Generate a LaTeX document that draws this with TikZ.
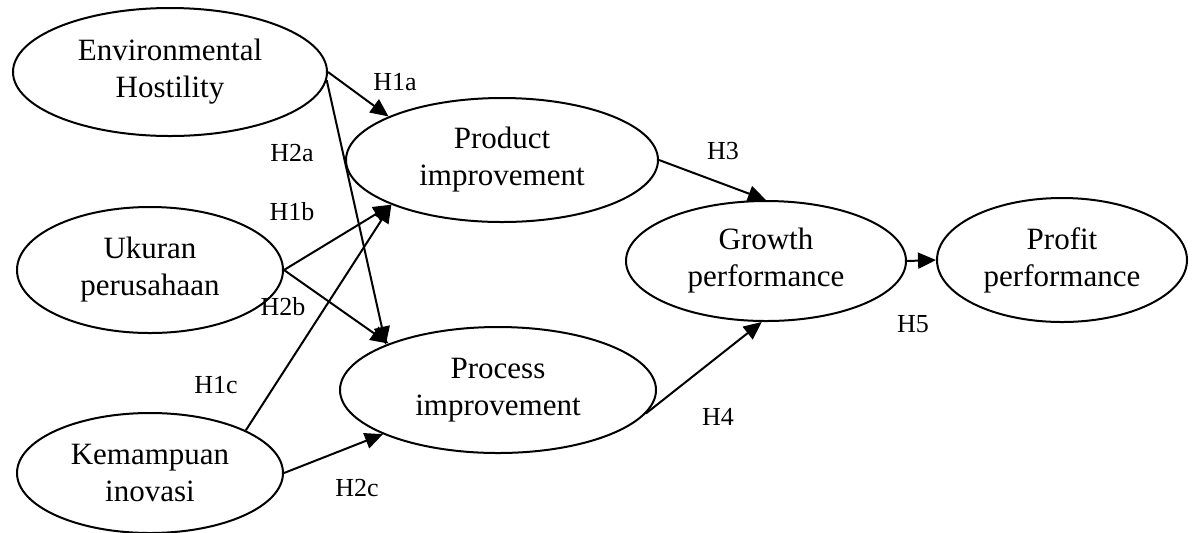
\documentclass[tikz,border=0pt]{standalone}
\usepackage{fontspec}
\setmainfont{Liberation Serif}
\usetikzlibrary{shapes.geometric, arrows.meta}

\tikzset{
  var/.style={draw, ellipse, line width=1pt, inner sep=0pt, align=center,
    font=\fontsize{15.5}{18.5}\selectfont},
  hyp/.style={font=\fontsize{13}{15}\selectfont},
}

\begin{document}
\begin{tikzpicture}[x=0.5pt, y=-0.5pt, line width=1pt,
    link/.style={-{Triangle[length=9pt, width=8pt]}}]
    \useasboundingbox (0, 0) rectangle (1199, 532);

    % draw the variables
    \node[var, minimum width=157pt, minimum height=64pt] (env) at (170, 72) {Environmental\\Hostility};
    \node[var, minimum width=133pt, minimum height=63pt] (size) at (150, 270) {Ukuran\\perusahaan};
    \node[var, minimum width=133pt, minimum height=60pt] (innov) at (150, 473) {Kemampuan\\inovasi};
    \node[var, minimum width=156pt, minimum height=62pt] (prod) at (502, 160) {Product\\improvement};
    \node[var, minimum width=158pt, minimum height=63pt] (proc) at (498, 390) {Process\\improvement};
    \node[var, minimum width=140pt, minimum height=60pt] (grow) at (766, 261) {Growth\\performance};
    \node[var, minimum width=125pt, minimum height=62pt] (profit) at (1062, 260) {Profit\\performance};

    % draw the hypothesised paths
    \draw[link] (env.east) -- (prod.159);
    \draw[link] (env.-3) -- (proc.158);
    \draw[link] (size.east) -- (prod.202);
    \draw[link] (size.east) -- (proc.157);
    \draw[link] (innov.24) -- (prod.202);
    \draw[link] (innov.east) -- (proc.201);
    \draw[link] (prod.east) -- (grow.north);
    \draw[link] (proc.-9) -- (grow.266);
    \draw[link] (grow.east) -- (profit.west);

    % hypothesis labels
    \node[hyp] (h1a) at (395, 82) {H1a};
    \node[hyp] (h2a) at (292, 153) {H2a};
    \node[hyp] (h1b) at (292, 212) {H1b};
    \node[hyp] (h2b) at (283, 307) {H2b};
    \node[hyp] (h1c) at (216, 385) {H1c};
    \node[hyp] (h2c) at (357, 488) {H2c};
    \node[hyp] (h3) at (723, 151) {H3};
    \node[hyp] (h4) at (718, 417) {H4};
    \node[hyp] (h5) at (913, 324) {H5};
\end{tikzpicture}
\end{document}
